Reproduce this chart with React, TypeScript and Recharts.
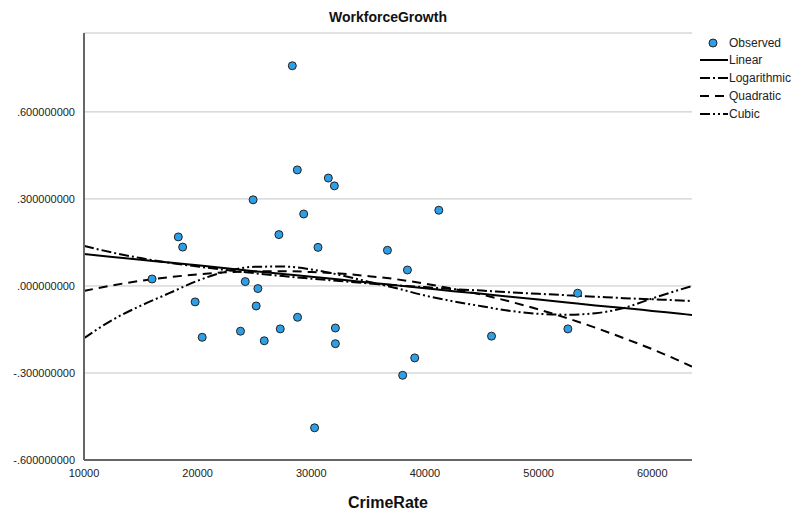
import React from 'react';
import { ComposedChart, Scatter, Line, XAxis, YAxis, CartesianGrid } from 'recharts';

// Observed cases (CrimeRate, WorkforceGrowth)
const obsX = [
  28330, 28770, 31500, 32030, 24880, 29330, 41220, 18300, 18680, 27150, 30590,
  36700, 38460, 15990, 19780, 20400, 24190, 25300, 25150, 23770, 25860, 27270,
  28790, 32120, 32120, 30290, 53440, 52580, 45860, 39100, 38040,
];
const obsY = [
  0.759, 0.4, 0.372, 0.345, 0.297, 0.248, 0.261, 0.169, 0.134, 0.177, 0.133,
  0.123, 0.055, 0.024, -0.055, -0.177, 0.015, -0.009, -0.069, -0.156, -0.189, -0.148,
  -0.108, -0.145, -0.199, -0.489, -0.025, -0.148, -0.173, -0.248, -0.308,
];

const curveX = [
  10000, 12500, 15000, 17500, 20000, 22500, 25000, 27500, 30000, 32500, 35000, 37500,
  40000, 42500, 45000, 47500, 50000, 52500, 55000, 57500, 60000, 62500, 63500,
];
const linearY = [
  0.11, 0.1, 0.09, 0.081, 0.071, 0.061, 0.051, 0.041, 0.032, 0.022, 0.012, 0.002,
  -0.008, -0.018, -0.027, -0.037, -0.047, -0.057, -0.067, -0.076, -0.086, -0.096, -0.1,
];
const logY = [
  0.138, 0.115, 0.096, 0.08, 0.067, 0.055, 0.044, 0.034, 0.025, 0.017, 0.009, 0.002,
  -0.004, -0.011, -0.016, -0.022, -0.027, -0.032, -0.037, -0.042, -0.046, -0.05, -0.052,
];
const quadY = [
  -0.017, 0.002, 0.018, 0.03, 0.04, 0.047, 0.05, 0.051, 0.048, 0.043, 0.034, 0.023,
  0.008, -0.01, -0.03, -0.054, -0.081, -0.111, -0.144, -0.18, -0.218, -0.26, -0.278,
];
const cubicY = [
  -0.18, -0.117, -0.068, -0.025, 0.018, 0.05, 0.066, 0.067, 0.057, 0.038, 0.015, -0.008,
  -0.033, -0.053, -0.07, -0.086, -0.096, -0.099, -0.094, -0.076, -0.043, -0.012, 0.0,
];

const xTicks = [10000, 20000, 30000, 40000, 50000, 60000];
const yTicks = [-0.6, -0.3, 0, 0.3, 0.6];

const legendItems = [
  { name: 'Linear', dash: undefined },
  { name: 'Logarithmic', dash: '10 3 2 3' },
  { name: 'Quadratic', dash: '9 6' },
  { name: 'Cubic', dash: '10 3 2 3 2 3' },
];

const scatterData = obsX.map((x, i) => ({ x, y: obsY[i] }));
const toCurve = (ys: number[]) => curveX.map((x, i) => ({ x, y: ys[i] }));

const fmtY = (v: number) => v.toFixed(9).replace(/^(-?)0\./, '$1.');

const font = 'Arial, "Liberation Sans", sans-serif';

const Dot = (props: any) => (
  <circle cx={props.cx} cy={props.cy} r={4} fill="#2e9fe6" stroke="#222" strokeWidth={1} />
);

export default function App() {
  return (
    <div style={{ position: 'fixed', left: 0, top: 0, width: 803, height: 514, background: '#fff', fontFamily: font }}>
      <div style={{ position: 'absolute', left: 0, width: 776, top: 9, textAlign: 'center', fontSize: 14, fontWeight: 'bold', color: '#111' }}>
        WorkforceGrowth
      </div>

      <ComposedChart width={803} height={514} margin={{ top: 33, right: 111, bottom: 24, left: 0 }}>
        <CartesianGrid vertical={false} stroke="#c4c4c4" />
        <XAxis
          type="number"
          dataKey="x"
          domain={[10000, 63500]}
          ticks={xTicks}
          allowDataOverflow
          height={30}
          tickLine={false}
          axisLine={{ stroke: '#666', strokeWidth: 2 }}
          tick={{ fill: '#222', fontSize: 11, fontFamily: font }}
          tickMargin={3}
        />
        <YAxis
          type="number"
          dataKey="y"
          domain={[-0.6, 0.872]}
          ticks={yTicks}
          allowDataOverflow
          width={84}
          tickLine={false}
          axisLine={{ stroke: '#666', strokeWidth: 2 }}
          tick={{ fill: '#222', fontSize: 11, fontFamily: font }}
          tickFormatter={fmtY}
          tickMargin={3}
        />
        <Line data={toCurve(linearY)} dataKey="y" type="monotone" stroke="#000" strokeWidth={2} dot={false} isAnimationActive={false} />
        <Line data={toCurve(logY)} dataKey="y" type="monotone" stroke="#000" strokeWidth={2} strokeDasharray="10 3 2 3" dot={false} isAnimationActive={false} />
        <Line data={toCurve(quadY)} dataKey="y" type="monotone" stroke="#000" strokeWidth={2} strokeDasharray="9 6" dot={false} isAnimationActive={false} />
        <Line data={toCurve(cubicY)} dataKey="y" type="monotone" stroke="#000" strokeWidth={2} strokeDasharray="10 3 2 3 2 3" dot={false} isAnimationActive={false} />
        <Scatter data={scatterData} dataKey="y" shape={<Dot />} isAnimationActive={false} />
      </ComposedChart>

      <div style={{ position: 'absolute', left: 0, width: 776, top: 494, textAlign: 'center', fontSize: 16, fontWeight: 'bold', color: '#111' }}>
        CrimeRate
      </div>

      <svg width={110} height={130} style={{ position: 'absolute', left: 693, top: 30 }}>
        <circle cx={20} cy={13} r={4} fill="#2e9fe6" stroke="#222" strokeWidth={1} />
        <text x={36} y={17} fontSize={12} fontFamily={font} fill="#222">Observed</text>
        {legendItems.map((it, i) => (
          <g key={it.name}>
            <line x1={7} x2={35} y1={30 + i * 18} y2={30 + i * 18} stroke="#000" strokeWidth={2} strokeDasharray={it.dash} />
            <text x={36} y={34 + i * 18} fontSize={12} fontFamily={font} fill="#222">{it.name}</text>
          </g>
        ))}
      </svg>
    </div>
  );
}
